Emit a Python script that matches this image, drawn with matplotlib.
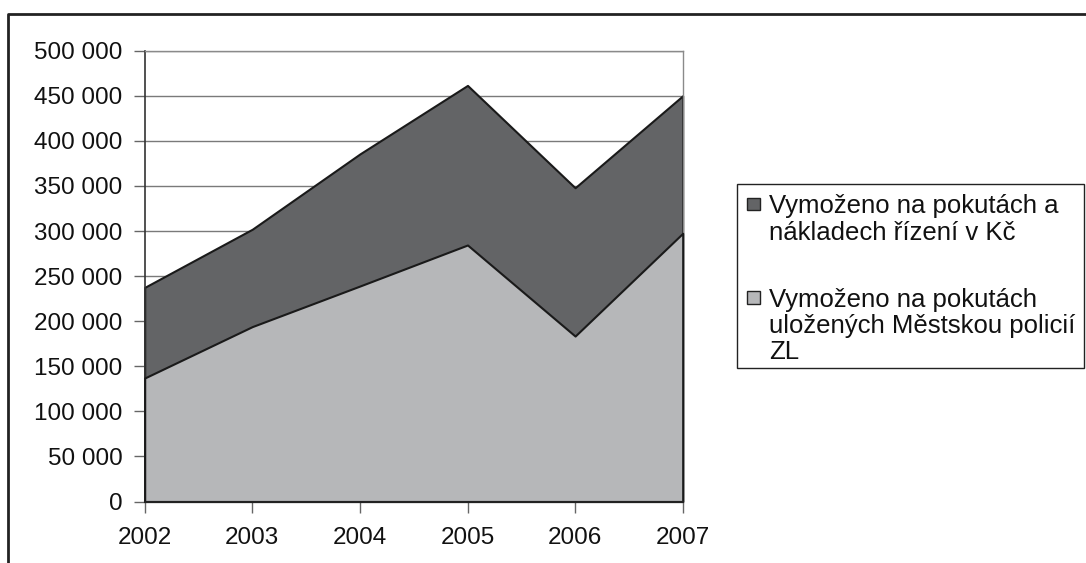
import matplotlib
matplotlib.use("Agg")
import matplotlib.pyplot as plt
from matplotlib.patches import Rectangle
from matplotlib.lines import Line2D
from matplotlib.ticker import FuncFormatter, MultipleLocator

# data (Kč)
years = [2002, 2003, 2004, 2005, 2006, 2007]
total = [237500, 302000, 385500, 461500, 348000, 450000]   # pokuty + náklady řízení
police = [137000, 194000, 239000, 284500, 183500, 297500]  # Městská policie ZL
labels = ["Vymoženo na pokutách a\nnákladech řízení v Kč",
          "Vymoženo na pokutách\nuložených Městskou policií\nZL"]
colors = ["#636466", "#b6b7b9"]

plt.rcParams["font.family"] = ["Liberation Sans", "DejaVu Sans"]

W, H = 1086, 563
fig = plt.figure(figsize=(W / 100, H / 100), dpi=100)
ax = fig.add_axes([144.7 / W, 1 - 501.5 / H, (682.7 - 144.7) / W, (501.5 - 50.7) / H])

ax.fill_between(years, 0, total, facecolor=colors[0], edgecolor="#1a1a1a",
                lw=1.5, zorder=2, clip_on=False)
ax.fill_between(years, 0, police, facecolor=colors[1], edgecolor="#1a1a1a",
                lw=1.5, zorder=3, clip_on=False)

ax.set_xlim(years[0], years[-1])
ax.set_ylim(0, 500000)
ax.set_xticks(years)
ax.yaxis.set_major_locator(MultipleLocator(50000))
ax.yaxis.set_major_formatter(FuncFormatter(lambda v, p: f"{v:,.0f}".replace(",", " ")))

ax.yaxis.grid(True, color="#7a7a7a", lw=1)
ax.set_axisbelow(True)

ax.spines["left"].set_color("#333333")
ax.spines["left"].set_linewidth(1.2)
ax.spines["bottom"].set_color("#222222")
ax.spines["bottom"].set_linewidth(1.5)
ax.spines["bottom"].set_zorder(4)
for s in ("top", "right"):
    ax.spines[s].set_color("#8a8a8a")
    ax.spines[s].set_linewidth(1)

ax.tick_params(axis="both", direction="out", length=8, width=1, color="#666666",
               labelsize=17.5, labelcolor="#111111")
ax.tick_params(axis="y", pad=8)
ax.tick_params(axis="x", pad=10)

# legend drawn by hand so that each square sits at the first line of its label
fig.add_artist(Rectangle((736.7 / W, 1 - 368.3 / H), (1084 - 736.7) / W, (368.3 - 184) / H,
                         transform=fig.transFigure, fill=False, edgecolor="#222222", lw=1))
entry_top = [197.7, 291.0]
for lab, col, top in zip(labels, colors, entry_top):
    fig.add_artist(Rectangle((747 / W, 1 - (top + 12.5) / H), 13 / W, 12.5 / H,
                             transform=fig.transFigure, facecolor=col,
                             edgecolor="#222222", lw=1))
    fig.text(769 / W, 1 - (top - 3.5) / H, lab, ha="left", va="top", fontsize=18.5,
             linespacing=1.13, color="#111111")

# outer chart frame (left and top edges visible)
fig.add_artist(Line2D([8 / W, 8 / W, 1], [0, 1 - 14 / H, 1 - 14 / H],
                      transform=fig.transFigure, color="#222222", lw=2))

fig.savefig("out.png", dpi=100)
